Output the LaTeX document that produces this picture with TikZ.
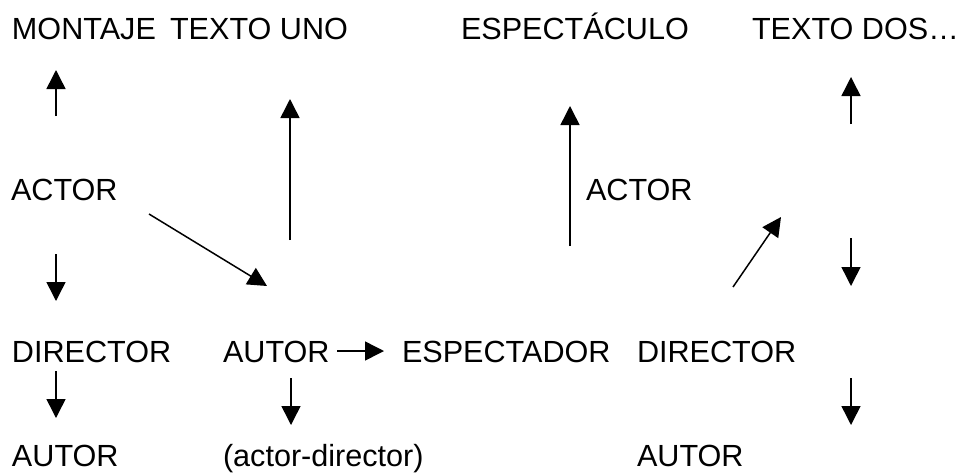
\documentclass[tikz,border=0pt]{standalone}
\usepackage{fontspec}
\setmainfont{Liberation Sans}
\usetikzlibrary{arrows.meta}
\begin{document}
\begin{tikzpicture}[x=1pt,y=-1pt,
  lbl/.style={anchor=base west,inner sep=0pt,outer sep=0pt,font=\fontsize{30.6}{36}\selectfont},
  arr/.style={line width=1.5pt,-{Triangle[length=19pt,width=19pt]}}]
\useasboundingbox (0,0) rectangle (965,472);
% top row
\node[lbl] (montaje) at (12,39) {MONTAJE};
\node[lbl] (textouno) at (170,39) {TEXTO UNO};
\node[lbl] (espectaculo) at (461,39) {ESPECTÁCULO};
\node[lbl] (textodos) at (752,39) {TEXTO DOS…};
% second row
\node[lbl] (actorL) at (11,200) {ACTOR};
\node[lbl] (actorR) at (586,200) {ACTOR};
% third row
\node[lbl] (directorL) at (12,362) {DIRECTOR};
\node[lbl] (autorM) at (223,362) {AUTOR};
\node[lbl] (espectador) at (402,362) {ESPECTADOR};
\node[lbl] (directorR) at (637,362) {DIRECTOR};
% bottom row
\node[lbl] (autorL) at (12,466) {AUTOR};
\node[lbl] (actdir) at (223,466) {(actor-director)};
\node[lbl] (autorR) at (637,466) {AUTOR};
% arrow end points
\coordinate (a1s) at (56,116); \coordinate (a1e) at (56,70);
\coordinate (a2s) at (290,240); \coordinate (a2e) at (290,99);
\coordinate (a3s) at (149,214); \coordinate (a3e) at (267,286);
\coordinate (a4s) at (56,254); \coordinate (a4e) at (56,301);
\coordinate (a5s) at (570,246); \coordinate (a5e) at (570,106);
\coordinate (a6s) at (733,287); \coordinate (a6e) at (781,217);
\coordinate (a7s) at (851,124); \coordinate (a7e) at (851,77);
\coordinate (a8s) at (851,238); \coordinate (a8e) at (851,286);
\coordinate (a9s) at (56,371); \coordinate (a9e) at (56,418);
\coordinate (a10s) at (337,351); \coordinate (a10e) at (384,351);
\coordinate (a11s) at (291,378); \coordinate (a11e) at (291,425);
\coordinate (a12s) at (851,378); \coordinate (a12e) at (851,425);
\foreach \i in {1,...,12} {\draw[arr] (a\i s) -- (a\i e);}
\end{tikzpicture}
\end{document}
